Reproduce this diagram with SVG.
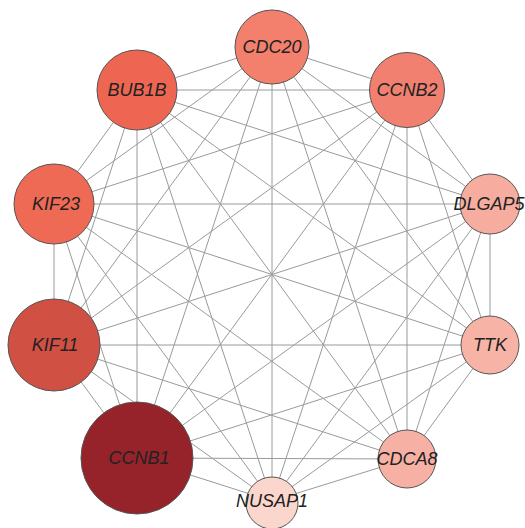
<svg xmlns="http://www.w3.org/2000/svg" width="525" height="528" viewBox="0 0 525 528">
<style>
.e{stroke:#9a9a9a;stroke-width:1;fill:none}
.n{stroke:#555;stroke-width:1}
.t{font-family:"Liberation Sans",Arial,sans-serif;font-style:italic;font-size:18px;fill:#222;text-anchor:middle;dominant-baseline:central}
</style>
<rect width="525" height="528" fill="#fff"/>
<g id="edges" class="e">
<path d="M272,47L137,90M272,47L407,90M272,47L490,204M272,47L490,345M272,47L407,459M272,47L272,501M272,47L137,458M272,47L54,345M272,47L54,204"/>
<path d="M137,90L407,90M137,90L490,204M137,90L490,345M137,90L407,459M137,90L272,501M137,90L137,458M137,90L54,345M137,90L54,204"/>
<path d="M407,90L490,204M407,90L490,345M407,90L407,459M407,90L272,501M407,90L137,458M407,90L54,345M407,90L54,204"/>
<path d="M490,204L490,345M490,204L407,459M490,204L272,501M490,204L137,458M490,204L54,345M490,204L54,204"/>
<path d="M490,345L407,459M490,345L272,501M490,345L137,458M490,345L54,345M490,345L54,204"/>
<path d="M407,459L272,501M407,459L137,458M407,459L54,345M407,459L54,204"/>
<path d="M272,501L137,458M272,501L54,345M272,501L54,204"/>
<path d="M137,458L54,345M137,458L54,204"/>
<path d="M54,345L54,204"/>
</g>
<g id="CDC20"><circle class="n" cx="272" cy="47" r="37" fill="#f2806c"/><text class="t" x="272" y="47">CDC20</text></g>
<g id="BUB1B"><circle class="n" cx="137" cy="90" r="40" fill="#ee6652"/><text class="t" x="137" y="90">BUB1B</text></g>
<g id="CCNB2"><circle class="n" cx="407" cy="90" r="37.5" fill="#f28070"/><text class="t" x="407" y="90">CCNB2</text></g>
<g id="DLGAP5"><circle class="n" cx="490" cy="204" r="30" fill="#f6ad9f"/><text class="t" x="489" y="204">DLGAP5</text></g>
<g id="TTK"><circle class="n" cx="490" cy="345" r="29" fill="#f8b3a7"/><text class="t" x="490" y="345">TTK</text></g>
<g id="CDCA8"><circle class="n" cx="407" cy="459" r="29" fill="#f7b0a4"/><text class="t" x="407" y="459">CDCA8</text></g>
<g id="NUSAP1"><circle class="n" cx="272" cy="503" r="26" fill="#fbd6cc"/><text class="t" x="272" y="501">NUSAP1</text></g>
<g id="CCNB1"><circle class="n" cx="137" cy="458" r="56" fill="#96222a"/><text class="t" x="139" y="458">CCNB1</text></g>
<g id="KIF11"><circle class="n" cx="54" cy="345" r="46" fill="#d05044"/><text class="t" x="55" y="345">KIF11</text></g>
<g id="KIF23"><circle class="n" cx="54" cy="204" r="40" fill="#ef6a55"/><text class="t" x="56" y="204">KIF23</text></g>
</svg>
